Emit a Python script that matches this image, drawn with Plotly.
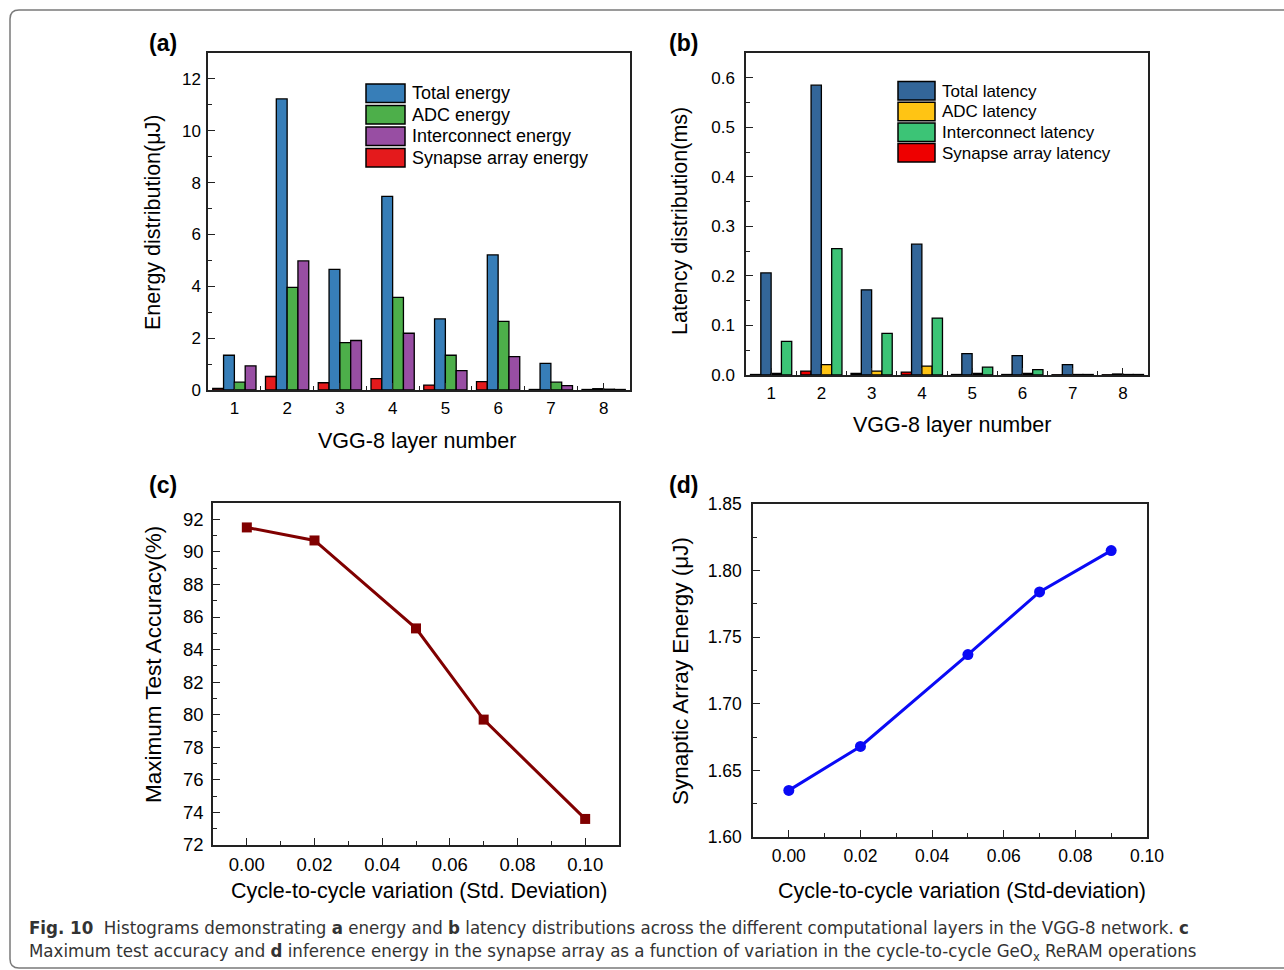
import plotly.graph_objects as go

W, H = 1284, 970

# ---------------- data ----------------
layers = [1, 2, 3, 4, 5, 6, 7, 8]

# (a) energy distribution (uJ)
energy_names = ["Total energy", "ADC energy", "Interconnect energy", "Synapse array energy"]
total_energy = [1.34, 11.23, 4.65, 7.47, 2.74, 5.21, 1.03, 0.05]
adc_energy = [0.30, 3.96, 1.83, 3.57, 1.34, 2.65, 0.30, 0.03]
inter_energy = [0.93, 4.98, 1.91, 2.19, 0.75, 1.29, 0.17, 0.02]
synapse_energy = [0.06, 0.52, 0.28, 0.44, 0.19, 0.32, 0.02, 0.02]

# (b) latency distribution (ms)
latency_names = ["Total latency", "ADC latency", "Interconnect latency", "Synapse array latency"]
total_latency = [0.206, 0.585, 0.172, 0.264, 0.043, 0.039, 0.021, 0.002]
adc_latency = [0.003, 0.021, 0.008, 0.018, 0.003, 0.003, 0.001, 0.001]
inter_latency = [0.068, 0.255, 0.084, 0.115, 0.016, 0.011, 0.001, 0.001]
synapse_latency = [0.001, 0.008, 0.003, 0.006, 0.001, 0.001, 0.0005, 0.0005]

# (c) accuracy vs variation
var_c = [0.00, 0.02, 0.05, 0.07, 0.10]
accuracy = [91.5, 90.7, 85.3, 79.7, 73.6]

# (d) synaptic array energy vs variation
var_d = [0.00, 0.02, 0.05, 0.07, 0.09]
syn_array_energy = [1.635, 1.668, 1.737, 1.784, 1.815]

energy_colors = ["#377EB8", "#4DAF4A", "#984EA3", "#E41A1C"]
latency_colors = ["#336699", "#FFC414", "#3CC476", "#EE0000"]

FONT = "Liberation Sans, Arial, sans-serif"


def px(x):
    return x / W


def py(y):
    return 1 - y / H


fig = go.Figure()

# ---- bars (a) ----
energy_series = [total_energy, adc_energy, inter_energy, synapse_energy]
for idx in [3, 0, 1, 2]:
    fig.add_trace(go.Bar(
        x=layers, y=energy_series[idx], name=energy_names[idx],
        marker=dict(color=energy_colors[idx], line=dict(color="black", width=1.3)),
        xaxis="x", yaxis="y", showlegend=False))

# ---- bars (b) ----
latency_series = [total_latency, adc_latency, inter_latency, synapse_latency]
for idx in [3, 0, 1, 2]:
    fig.add_trace(go.Bar(
        x=layers, y=latency_series[idx], name=latency_names[idx],
        marker=dict(color=latency_colors[idx], line=dict(color="black", width=1.3)),
        xaxis="x2", yaxis="y2", showlegend=False))

# ---- line (c) ----
fig.add_trace(go.Scatter(
    x=var_c, y=accuracy, mode="lines+markers",
    line=dict(color="#800000", width=3),
    marker=dict(symbol="square", size=10, color="#800000"),
    xaxis="x3", yaxis="y3", showlegend=False))

# ---- line (d) ----
fig.add_trace(go.Scatter(
    x=var_d, y=syn_array_energy, mode="lines+markers",
    line=dict(color="#0A0AF5", width=3),
    marker=dict(symbol="circle", size=11, color="#0A0AF5"),
    xaxis="x4", yaxis="y4", showlegend=False))


def tf(size):
    return dict(family=FONT, size=size, color="black")


def ax(domain, rng, anchor, size=17, **kw):
    d = dict(domain=domain, range=rng, anchor=anchor, showline=True, mirror=True,
             linecolor="#222", linewidth=1.5, ticks="inside", ticklen=7, tickwidth=1.3,
             tickcolor="#222", showgrid=False, zeroline=False, tickfont=tf(size),
             automargin=False)
    d.update(kw)
    return d


def mn(dt, t0=None):
    m = dict(dtick=dt, ticks="inside", ticklen=4, tickcolor="#222")
    if t0 is not None:
        m["tick0"] = t0
    return m


layout = dict(
    width=W, height=H, margin=dict(l=0, r=0, t=0, b=0, pad=0, autoexpand=False),
    paper_bgcolor="white", plot_bgcolor="white",
    barmode="group", bargap=0.18, bargroupgap=0,
    font=dict(family=FONT, color="black"),
    xaxis=ax([px(208), px(630)], [0.5, 8.5], "y", 17, tickmode="array", tickvals=layers,
             ticklabelstandoff=2, minor=mn(0.5, 0.5)),
    yaxis=ax([py(390), py(53)], [0, 13], "x", 17, dtick=2, ticklabelstandoff=2, minor=mn(1)),
    xaxis2=ax([px(746), px(1148)], [0.5, 8.5], "y2", 17, tickmode="array", tickvals=layers,
              ticklabelstandoff=2, minor=mn(0.5, 0.5)),
    yaxis2=ax([py(375), py(53)], [0, 0.65], "x2", 17, dtick=0.1, tickformat=".1f",
              ticklabelstandoff=6, minor=mn(0.05)),
    xaxis3=ax([px(213), px(619)], [-0.01, 0.11], "y3", 18.5, dtick=0.02, tick0=0,
              tickformat=".2f", ticklabelstandoff=2, minor=mn(0.01)),
    yaxis3=ax([py(845), py(503)], [72, 93], "x3", 18.5, dtick=2, tick0=72,
              ticklabelstandoff=4, minor=mn(1)),
    xaxis4=ax([px(753), px(1147)], [-0.01, 0.10], "y4", 17.5, dtick=0.02, tick0=0,
              tickformat=".2f", ticklabelstandoff=2, minor=mn(0.01)),
    yaxis4=ax([py(837), py(504)], [1.60, 1.85], "x4", 17.5, dtick=0.05, tickformat=".2f",
              ticklabelstandoff=6, minor=mn(0.025)),
)
fig.update_layout(**layout)

annotations = []
shapes = []


def text(x, y, s, size=21.5, angle=0, bold=False, xanchor="center", family=FONT, color="black"):
    annotations.append(dict(
        x=px(x), y=py(y), xref="paper", yref="paper", text=(f"<b>{s}</b>" if bold else s),
        showarrow=False, textangle=angle, xanchor=xanchor, yanchor="middle",
        font=dict(family=family, size=size, color=color)))


# panel labels
text(163, 43, "(a)", size=23, bold=True)
text(683, 43, "(b)", size=23, bold=True)
text(163, 485, "(c)", size=23, bold=True)
text(683, 485, "(d)", size=23, bold=True)

# axis titles
text(153, 222, "Energy distribution(μJ)", angle=-90)
text(417, 441, "VGG-8 layer number")
text(680, 221, "Latency distribution(ms)", angle=-90)
text(952, 425, "VGG-8 layer number")
text(153, 665, "Maximum Test Accuracy(%)", size=22.5, angle=-90)
text(419, 891, "Cycle-to-cycle variation (Std. Deviation)")
text(680, 671, "Synaptic Array Energy (μJ)", size=22.5, angle=-90)
text(962, 891, "Cycle-to-cycle variation (Std-deviation)")

# custom legends (a) and (b)
leg_a_top = [84, 105.5, 127, 148.5]
for i in range(4):
    shapes.append(dict(type="rect", xref="paper", yref="paper",
                       x0=px(366), x1=px(405), y0=py(leg_a_top[i] + 18.5), y1=py(leg_a_top[i]),
                       fillcolor=energy_colors[i], line=dict(color="black", width=1.5)))
    text(410, leg_a_top[i] + 9.5, energy_names[i], size=18, xanchor="left")

leg_b_top = [81.5, 102.3, 123, 143.5]
for i in range(4):
    shapes.append(dict(type="rect", xref="paper", yref="paper",
                       x0=px(898), x1=px(935), y0=py(leg_b_top[i] + 18.5), y1=py(leg_b_top[i]),
                       fillcolor=latency_colors[i], line=dict(color="black", width=1.5)))
    text(940, leg_b_top[i] + 9.5, latency_names[i], size=17, xanchor="left")

# outer rounded frame
r = 9
x0, y0, x1, y1 = 10, 10, 1310, 968
path = (f"M {px(x0)},{py(y0 + r)} Q {px(x0)},{py(y0)} {px(x0 + r)},{py(y0)} "
        f"L {px(x1)},{py(y0)} L {px(x1)},{py(y1)} L {px(x0 + r)},{py(y1)} "
        f"Q {px(x0)},{py(y1)} {px(x0)},{py(y1 - r)} Z")
shapes.append(dict(type="path", xref="paper", yref="paper", path=path,
                   line=dict(color="#7a7a7a", width=1.5), fillcolor="rgba(0,0,0,0)", layer="below"))

# caption
CAP = "Liberation Sans Narrow, DejaVu Sans Condensed, Open Sans, sans-serif"
annotations.append(dict(
    x=px(27), y=py(927), xref="paper", yref="paper", xanchor="left", yanchor="middle",
    showarrow=False, font=dict(family=CAP, size=18.5, color="#333"),
    text="<b>Fig. 10</b>  Histograms demonstrating <b>a</b> energy and <b>b</b> latency distributions "
         "across the different computational layers in the VGG-8 network. <b>c</b>"))
annotations.append(dict(
    x=px(27), y=py(952), xref="paper", yref="paper", xanchor="left", yanchor="middle",
    showarrow=False, font=dict(family=CAP, size=18.5, color="#333"),
    text="Maximum test accuracy and <b>d</b> inference energy in the synapse array as a function of "
         "variation in the cycle-to-cycle GeO<sub>x</sub> ReRAM operations"))

fig.update_layout(annotations=annotations, shapes=shapes)
fig.write_html("out.html")
